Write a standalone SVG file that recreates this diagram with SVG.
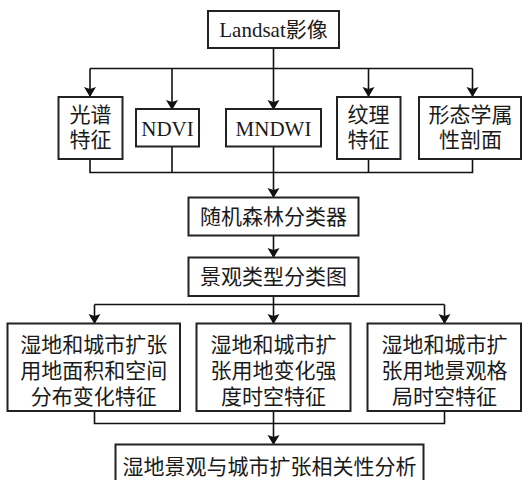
<svg xmlns="http://www.w3.org/2000/svg" width="522" height="480" viewBox="0 0 522 480">
<style>
.box{fill:#fff;stroke:#222;stroke-width:2}
.ln{fill:none;stroke:#111;stroke-width:1.6}
text{font-family:"Liberation Serif","Noto Sans CJK SC",serif;font-size:21px;fill:#1a1a1a;text-anchor:middle;dominant-baseline:central}
</style>
<defs>
<marker id="ah" viewBox="0 0 10 14" refX="9" refY="7" markerWidth="10" markerHeight="14" markerUnits="userSpaceOnUse" orient="auto">
<path d="M0,1 L10,7 L0,13 L2,7 Z" fill="#111"/>
</marker>
</defs>
<rect width="522" height="480" fill="#fff"/>
<g id="connectors">
<path class="ln" d="M273.5,48 V68.5 M90,68.5 H472.5"/>
<path class="ln" d="M90,68.5 V96" marker-end="url(#ah)"/>
<path class="ln" d="M172,68.5 V109" marker-end="url(#ah)"/>
<path class="ln" d="M273.5,68.5 V109" marker-end="url(#ah)"/>
<path class="ln" d="M368.5,68.5 V96" marker-end="url(#ah)"/>
<path class="ln" d="M472.5,68.5 V96" marker-end="url(#ah)"/>
<path class="ln" d="M90,159 V172.5 H472.5 V159 M172,146.5 V172.5 M273.5,146.5 V172.5 M368.5,159 V172.5"/>
<path class="ln" d="M273.5,172.5 V197" marker-end="url(#ah)"/>
<path class="ln" d="M273.5,236 V257" marker-end="url(#ah)"/>
<path class="ln" d="M273.5,296 V304.5 M94.5,304.5 H444.5"/>
<path class="ln" d="M94.5,304.5 V323" marker-end="url(#ah)"/>
<path class="ln" d="M273.5,304.5 V323" marker-end="url(#ah)"/>
<path class="ln" d="M444.5,304.5 V323" marker-end="url(#ah)"/>
<path class="ln" d="M94.5,411 V423.5 H444.5 V411 M273.5,411 V423.5"/>
<path class="ln" d="M273.5,423.5 V444" marker-end="url(#ah)"/>
</g>
<g id="landsat"><rect class="box" x="208" y="11" width="131" height="37"/><text x="273.5" y="30">Landsat影像</text></g>
<g id="spectral"><rect class="box" x="58.5" y="97" width="64" height="62"/><text x="90.5" y="115">光谱</text><text x="90.5" y="140">特征</text></g>
<g id="ndvi"><rect class="box" x="136" y="109" width="63" height="37.5"/><text x="167.5" y="128.5">NDVI</text></g>
<g id="mndwi"><rect class="box" x="226" y="109" width="95" height="37.5"/><text x="273.5" y="128.5">MNDWI</text></g>
<g id="texture"><rect class="box" x="337" y="97" width="63.5" height="62"/><text x="368.5" y="115">纹理</text><text x="368.5" y="140">特征</text></g>
<g id="morph"><rect class="box" x="419" y="97" width="102" height="62"/><text x="470.5" y="115">形态学属</text><text x="470.5" y="140">性剖面</text></g>
<g id="rf"><rect class="box" x="188.5" y="197.5" width="170" height="38"/><text x="273.5" y="217">随机森林分类器</text></g>
<g id="landscape"><rect class="box" x="188.5" y="257.5" width="170" height="38.5"/><text x="273.5" y="277">景观类型分类图</text></g>
<g id="area"><rect class="box" x="7.5" y="323.5" width="172.5" height="87.5"/><text x="93.7" y="345">湿地和城市扩张</text><text x="93.7" y="371">用地面积和空间</text><text x="93.7" y="397">分布变化特征</text></g>
<g id="intensity"><rect class="box" x="196.5" y="323.5" width="154" height="87.5"/><text x="273.5" y="345">湿地和城市扩</text><text x="273.5" y="371">张用地变化强</text><text x="273.5" y="397">度时空特征</text></g>
<g id="pattern"><rect class="box" x="367.5" y="323.5" width="153.5" height="87.5"/><text x="444.5" y="345">湿地和城市扩</text><text x="444.5" y="371">张用地景观格</text><text x="444.5" y="397">局时空特征</text></g>
<g id="correlation"><rect class="box" x="115.5" y="444.5" width="308" height="45"/><text x="269.5" y="466.5">湿地景观与城市扩张相关性分析</text></g>
</svg>
